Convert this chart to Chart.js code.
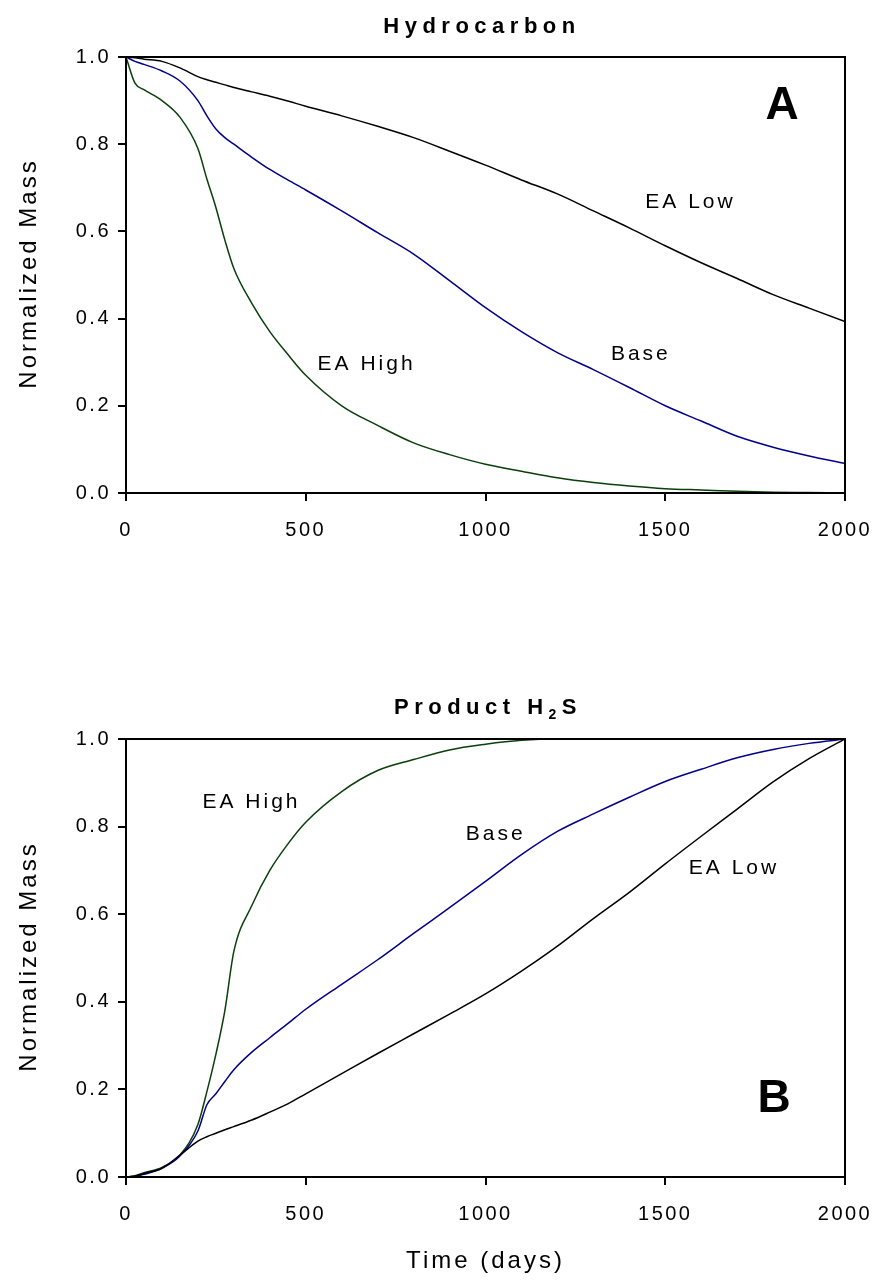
<!DOCTYPE html>
<html lang="en">
<head>
<meta charset="UTF-8" />
<title>Hydrocarbon / Product H2S</title>
<style>
  body { margin: 0; background: #fff; }
  .panel { position: absolute; left: 0; width: 876px; }
</style>
</head>
<body>
<div class="panel" style="top:0;height:600px"><canvas id="hcChart" width="876" height="600"></canvas></div>
<div class="panel" style="top:640px;height:641px"><canvas id="h2sChart" width="876" height="641"></canvas></div>

<script src="https://cdn.jsdelivr.net/npm/chart.js"></script>
<script>
// time grid shared by every curve (days)
const days = [0, 25, 50, 100, 150, 200, 225, 250, 275, 300, 350, 400, 450, 500,
  600, 700, 800, 900, 1000, 1100, 1200, 1300, 1400, 1500, 1600, 1700, 1800, 1900, 2000];

// panel A: normalized hydrocarbon mass
const hcLow  = [1.0, .998, .995, .99, .975, .955, .948, .942, .936, .93, .92, .91, .899, .887,
  .865, .841, .815, .784, .752, .718, .686, .647, .608, .567, .528, .492, .455, .424, .393];
const hcBase = [1.0, .99, .983, .968, .945, .9, .865, .835, .815, .8, .77, .742, .718, .695,
  .647, .597, .548, .487, .425, .37, .322, .283, .242, .2, .165, .13, .105, .085, .068];
const hcHigh = [1.0, .94, .925, .9, .862, .79, .72, .655, .58, .515, .435, .37, .318, .27,
  .2, .155, .115, .088, .066, .05, .035, .024, .016, .01, .007, .004, .002, .001, 0];

// panel B: normalized H2S produced
const h2sLow  = [0, .002, .008, .02, .05, .082, .092, .1, .108, .115, .13, .148, .167, .19,
  .236, .282, .327, .372, .418, .47, .527, .59, .65, .715, .778, .84, .902, .955, 1.0];
const h2sBase = [0, .002, .006, .02, .048, .105, .165, .19, .218, .245, .285, .318, .35, .383,
  .44, .496, .556, .615, .675, .736, .789, .829, .867, .903, .931, .957, .976, .99, 1.0];
const h2sHigh = [0, .003, .01, .022, .05, .12, .195, .28, .38, .515, .62, .7, .76, .81,
  .88, .928, .953, .975, .988, .997, 1.0, 1.0, 1.0, 1.0, 1.0, 1.0, 1.0, 1.0, 1.0];

const xTicks = [0, 500, 1000, 1500, 2000];
const yTicks = [0, 0.2, 0.4, 0.6, 0.8, 1.0];

const BLACK = '#000000', NAVY = '#00008b', GREEN = '#0a3f0a';
const FONT = '"Liberation Sans", Arial, sans-serif';

const pts = vals => vals.map((v, i) => ({ x: days[i], y: v }));
const line = (vals, color) => ({
  data: pts(vals), borderColor: color, borderWidth: 1.5,
  pointRadius: 0, fill: false, cubicInterpolationMode: 'monotone'
});

// frame, titles, curve labels and the panel letter
const overlay = {
  id: 'overlay',
  beforeDraw(chart) { chart.ctx.letterSpacing = '2.5px'; },
  afterDraw(chart, args, o) {
    const { ctx, chartArea: a, scales: { x, y } } = chart;
    ctx.save();
    ctx.strokeStyle = '#000';
    ctx.lineWidth = 2;
    ctx.strokeRect(a.left, a.top, a.right - a.left, a.bottom - a.top);
    ctx.fillStyle = '#000';

    // title, with optional subscript pieces
    ctx.textAlign = 'left';
    ctx.textBaseline = 'alphabetic';
    ctx.letterSpacing = '5.5px';
    const big = 'bold 22px ' + FONT, small = 'bold 14px ' + FONT;
    let w = 0;
    o.title.forEach(p => { ctx.font = p.sub ? small : big; w += ctx.measureText(p.t).width; });
    let tx = o.titleX - w / 2;
    o.title.forEach(p => {
      ctx.font = p.sub ? small : big;
      ctx.fillText(p.t, tx, o.titleY + (p.sub ? 5 : 0));
      tx += ctx.measureText(p.t).width;
    });

    // curve labels
    ctx.font = '21px ' + FONT;
    ctx.letterSpacing = '3px';
    ctx.textAlign = 'center';
    ctx.textBaseline = 'middle';
    o.labels.forEach(l => ctx.fillText(l.text, x.getPixelForValue(l.x) + 1.5, y.getPixelForValue(l.y)));

    // panel letter
    ctx.font = 'bold 46px ' + FONT;
    ctx.letterSpacing = '0px';
    ctx.fillText(o.letter.text, x.getPixelForValue(o.letter.x), y.getPixelForValue(o.letter.y));

    // axis titles
    ctx.font = '24px ' + FONT;
    ctx.letterSpacing = '3px';
    ctx.save();
    ctx.translate(29, (a.top + a.bottom) / 2);
    ctx.rotate(-Math.PI / 2);
    ctx.fillText('Normalized Mass', 1.5, 0);
    ctx.restore();
    if (o.xTitle) ctx.fillText(o.xTitle, (a.left + a.right) / 2, o.xTitleY);
    ctx.restore();
    ctx.letterSpacing = '0px';
  }
};

function makeChart(id, series, padTop, xHeight, extra) {
  return new Chart(document.getElementById(id), {
    type: 'line',
    data: { datasets: series },
    plugins: [overlay],
    options: {
      responsive: false,
      animation: false,
      layout: { padding: { top: padTop, right: 31, left: 0, bottom: 0 } },
      plugins: { legend: { display: false }, tooltip: { enabled: false }, overlay: extra },
      scales: {
        x: {
          type: 'linear', min: 0, max: 2000,
          afterFit: s => { s.height = xHeight; s.paddingLeft = 0; s.paddingRight = 0; },
          afterBuildTicks: s => { s.ticks = xTicks.map(v => ({ value: v })); },
          ticks: { color: '#000', font: { size: 20, family: FONT }, padding: 17, maxRotation: 0,
                   callback: v => String(v) },
          grid: { drawOnChartArea: false, tickLength: 8, color: '#000', lineWidth: 2 },
          border: { color: '#000', width: 2 }
        },
        y: {
          min: 0, max: 1,
          afterFit: s => { s.width = 126; s.paddingTop = 0; s.paddingBottom = 0; },
          afterBuildTicks: s => { s.ticks = yTicks.map(v => ({ value: v })); },
          ticks: { color: '#000', font: { size: 20, family: FONT }, padding: 7,
                   callback: v => v.toFixed(1) },
          grid: { drawOnChartArea: false, tickLength: 8, color: '#000', lineWidth: 2 },
          border: { color: '#000', width: 2 }
        }
      }
    }
  });
}

makeChart('hcChart',
  [line(hcLow, BLACK), line(hcBase, NAVY), line(hcHigh, GREEN)],
  57, 107,
  {
    title: [{ t: 'Hydrocarbon' }], titleX: 482, titleY: 33,
    labels: [
      { text: 'EA Low', x: 1566, y: 0.666 },
      { text: 'Base', x: 1428, y: 0.319 },
      { text: 'EA High', x: 665, y: 0.296 }
    ],
    letter: { text: 'A', x: 1825, y: 0.886 }
  });

makeChart('h2sChart',
  [line(h2sLow, BLACK), line(h2sBase, NAVY), line(h2sHigh, GREEN)],
  99, 104,
  {
    title: [{ t: 'Product H' }, { t: '2', sub: true }, { t: 'S' }], titleX: 488, titleY: 74,
    labels: [
      { text: 'EA High', x: 345, y: 0.855 },
      { text: 'Base', x: 1024, y: 0.783 },
      { text: 'EA Low', x: 1687, y: 0.704 }
    ],
    letter: { text: 'B', x: 1803, y: 0.178 },
    xTitle: 'Time (days)', xTitleY: 621
  });
</script>
</body>
</html>
